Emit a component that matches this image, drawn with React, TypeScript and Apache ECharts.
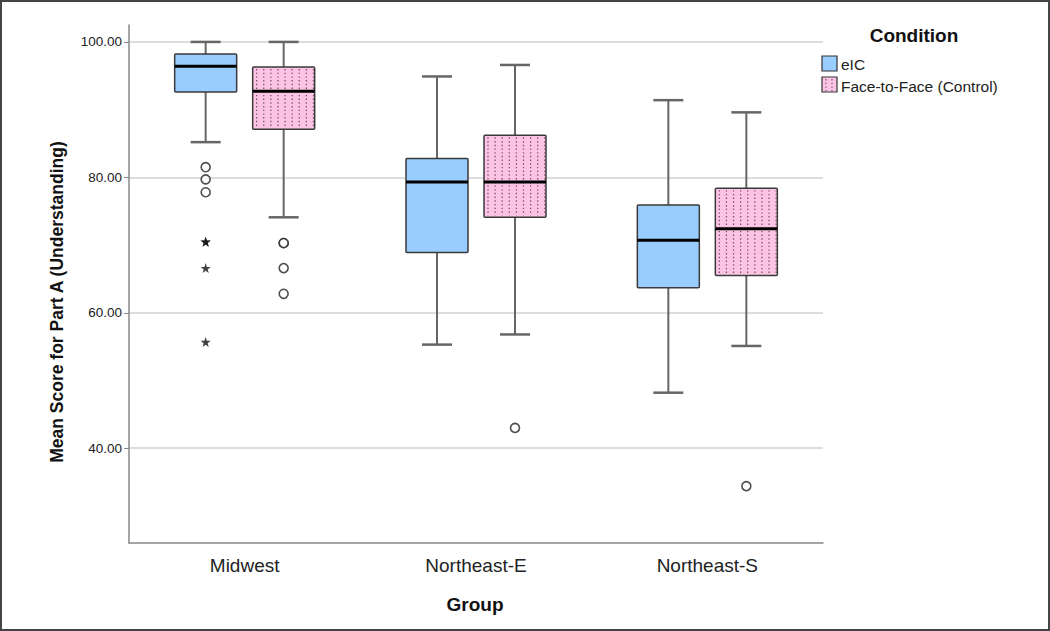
import React, { useEffect, useRef } from 'react';
import * as echarts from 'echarts';

const categories = ['Midwest', 'Northeast-E', 'Northeast-S'];
const seriesNames = ['eIC', 'Face-to-Face (Control)'];
// [lower whisker, Q1, median, Q3, upper whisker]
const eicStats = [
  [85.2, 92.6, 96.4, 98.2, 100.0],
  [55.3, 68.9, 79.3, 82.8, 94.9],
  [48.2, 63.7, 70.7, 75.9, 91.4],
];
const f2fStats = [
  [74.1, 87.1, 92.7, 96.3, 100.0],
  [56.8, 74.1, 79.3, 86.2, 96.6],
  [55.1, 65.5, 72.4, 78.4, 89.6],
];
// [category index, value]
const eicOutliers = [[0, 81.5], [0, 79.7], [0, 77.8]];
const eicExtremes = [[0, 70.5], [0, 70.5], [0, 66.6], [0, 55.7]];
const f2fOutliers = [[0, 70.3], [0, 70.3], [0, 66.6], [0, 62.8], [1, 43.0], [2, 34.4]];
const yTicks = [40, 60, 80, 100];

const FONT = '"Liberation Sans", Arial, sans-serif';
const BLUE = '#99ccff';
const PINK = '#fdc3e4';
const DOT = '#6e5064';
const STAR =
  'path://M50,0 L61.8,35.1 L97.6,34.5 L69.1,56.9 L79.4,90.5 L50,70 L20.6,90.5 L30.9,56.9 L2.4,34.5 L38.2,35.1 Z';
const OFFSET = 39;

function makeRender(offset: number, fill: string, dotted: boolean) {
  return (params: any, api: any) => {
    const ci = api.value(0);
    const ys = [1, 2, 3, 4, 5].map((i) => api.coord([ci, api.value(i)]));
    const cx = ys[0][0] + offset;
    const [yMin, yQ1, yMed, yQ3, yMax] = ys.map((q: number[]) => q[1]);
    const hw = 31;
    const cw = 15;
    const wStyle = { stroke: '#666666', lineWidth: 2 };
    const children: any[] = [
      { type: 'line', shape: { x1: cx, y1: yMax, x2: cx, y2: yQ3 }, style: wStyle },
      { type: 'line', shape: { x1: cx, y1: yQ1, x2: cx, y2: yMin }, style: wStyle },
      { type: 'line', shape: { x1: cx - cw, y1: yMax, x2: cx + cw, y2: yMax }, style: { stroke: '#666666', lineWidth: 2.5 } },
      { type: 'line', shape: { x1: cx - cw, y1: yMin, x2: cx + cw, y2: yMin }, style: { stroke: '#666666', lineWidth: 2.5 } },
      {
        type: 'rect',
        shape: { x: cx - hw, y: yQ3, width: hw * 2, height: yQ1 - yQ3, r: 1 },
        style: { fill, stroke: '#3a3a3a', lineWidth: 1.5 },
      },
    ];
    if (dotted) {
      for (let k = 0; k < 9; k++) {
        const x = cx - hw + 4 + k * 7.1;
        children.push({
          type: 'line',
          shape: { x1: x, y1: yQ3 + 2, x2: x, y2: yQ1 - 2 },
          style: { stroke: DOT, lineWidth: 1.2, lineDash: [1.4, 2.3] },
        });
      }
    }
    children.push({
      type: 'line',
      shape: { x1: cx - hw, y1: yMed, x2: cx + hw, y2: yMed },
      style: { stroke: '#000000', lineWidth: 3 },
    });
    return { type: 'group', children };
  };
}

export default function App() {
  const ref = useRef<HTMLDivElement>(null);
  useEffect(() => {
    if (!ref.current) return;
    const chart = echarts.init(ref.current, undefined, { renderer: 'svg' });
    const legendDots: any[] = [];
    [826, 832].forEach((x) =>
      legendDots.push({
        type: 'line',
        shape: { x1: x, y1: 79, x2: x, y2: 91 },
        style: { stroke: DOT, lineWidth: 1.2, lineDash: [1.4, 2.3] },
      })
    );
    chart.setOption({
      animation: false,
      backgroundColor: '#ffffff',
      grid: { left: 129, right: 227, top: 25, bottom: 88, outerBoundsMode: 'none' },
      xAxis: {
        type: 'category',
        data: categories,
        axisLine: { show: true, lineStyle: { color: '#888888', width: 1.5 } },
        axisTick: { show: false },
        axisLabel: { fontFamily: FONT, fontSize: 19, color: '#222222', margin: 13 },
        splitLine: { show: false },
      },
      yAxis: {
        type: 'value',
        min: 26,
        max: 102.5,
        axisLine: { show: true, lineStyle: { color: '#888888', width: 1.5 } },
        axisTick: { show: true, customValues: yTicks, length: 5, lineStyle: { color: '#888888' } },
        axisLabel: {
          customValues: yTicks,
          formatter: (v: number) => v.toFixed(2),
          fontFamily: FONT,
          fontSize: 13.5,
          color: '#222222',
          margin: 7,
        },
        splitLine: { show: true, lineStyle: { color: '#d2d2d2', width: 1.5 } },
      },
      series: [
        {
          name: seriesNames[0],
          type: 'custom',
          renderItem: makeRender(-OFFSET, BLUE, false),
          encode: { x: 0, y: [1, 2, 3, 4, 5] },
          data: eicStats.map((s, i) => [i, ...s]),
          z: 3,
        },
        {
          name: seriesNames[1],
          type: 'custom',
          renderItem: makeRender(OFFSET, PINK, true),
          encode: { x: 0, y: [1, 2, 3, 4, 5] },
          data: f2fStats.map((s, i) => [i, ...s]),
          z: 3,
        },
        {
          name: seriesNames[0] + ' outliers',
          type: 'scatter',
          data: eicOutliers,
          symbol: 'circle',
          symbolSize: 9,
          symbolOffset: [-OFFSET, 0],
          itemStyle: { color: '#ffffff', borderColor: '#222222', borderWidth: 1.6 },
          z: 4,
        },
        {
          name: seriesNames[0] + ' extremes',
          type: 'scatter',
          data: eicExtremes,
          symbol: STAR,
          symbolSize: 10,
          symbolOffset: [-OFFSET, 0],
          itemStyle: { color: '#111111' },
          z: 4,
        },
        {
          name: seriesNames[1] + ' outliers',
          type: 'scatter',
          data: f2fOutliers,
          symbol: 'circle',
          symbolSize: 9,
          symbolOffset: [OFFSET, 0],
          itemStyle: { color: '#ffffff', borderColor: '#222222', borderWidth: 1.6 },
          z: 4,
        },
      ],
      graphic: [
        {
          type: 'rect',
          shape: { x: 1, y: 1, width: 1048, height: 629 },
          style: { fill: 'none', stroke: '#444444', lineWidth: 2 },
          silent: true,
        },
        {
          type: 'text',
          x: 57,
          y: 302,
          rotation: Math.PI / 2,
          style: {
            text: 'Mean Score for Part A (Understanding)',
            fontFamily: FONT,
            fontWeight: 'bold',
            fontSize: 17.5,
            fill: '#111111',
            textAlign: 'center',
            textVerticalAlign: 'middle',
          },
        },
        {
          type: 'text',
          x: 475,
          y: 604,
          style: {
            text: 'Group',
            fontFamily: FONT,
            fontWeight: 'bold',
            fontSize: 19,
            fill: '#111111',
            textAlign: 'center',
            textVerticalAlign: 'middle',
          },
        },
        {
          type: 'text',
          x: 914,
          y: 35,
          style: {
            text: 'Condition',
            fontFamily: FONT,
            fontWeight: 'bold',
            fontSize: 19,
            fill: '#111111',
            textAlign: 'center',
            textVerticalAlign: 'middle',
          },
        },
        {
          type: 'rect',
          shape: { x: 822, y: 56, width: 15, height: 15 },
          style: { fill: BLUE, stroke: '#333333', lineWidth: 1.2 },
        },
        {
          type: 'rect',
          shape: { x: 822, y: 77, width: 15, height: 15 },
          style: { fill: PINK, stroke: '#333333', lineWidth: 1.2 },
        },
        ...legendDots,
        {
          type: 'text',
          x: 841,
          y: 64,
          style: {
            text: seriesNames[0],
            fontFamily: FONT,
            fontSize: 15.5,
            fill: '#222222',
            textAlign: 'left',
            textVerticalAlign: 'middle',
          },
        },
        {
          type: 'text',
          x: 841,
          y: 86,
          style: {
            text: seriesNames[1],
            fontFamily: FONT,
            fontSize: 15.5,
            fill: '#222222',
            textAlign: 'left',
            textVerticalAlign: 'middle',
          },
        },
      ],
    });
    return () => chart.dispose();
  }, []);
  return (
    <div
      ref={ref}
      style={{ position: 'absolute', left: 0, top: 0, width: 1050, height: 631 }}
    />
  );
}
